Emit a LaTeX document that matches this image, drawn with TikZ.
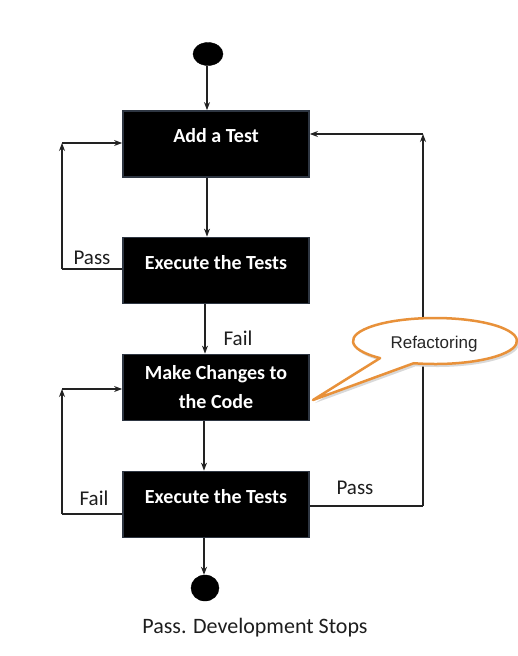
\documentclass[tikz,border=0pt]{standalone}
\usepackage{fontspec}
\setmainfont{Carlito}
\newfontfamily\arialfont{Liberation Sans}
\usetikzlibrary{arrows.meta,shapes.geometric}
\definecolor{lineclr}{HTML}{222222}
\definecolor{boxedge}{HTML}{2E3642}
\definecolor{callorange}{HTML}{E8913A}
\definecolor{labelclr}{HTML}{1E1E1E}
\tikzset{
  stepbox/.style={rectangle, fill=black, draw=boxedge, line width=1.8pt,
    minimum width=186pt, minimum height=66pt, inner sep=0pt, text=white,
    align=center, font=\fontsize{20}{29}\selectfont\bfseries},
  oneline/.style={text height=14pt, text depth=17pt},
  dot/.style={ellipse, fill=black, draw=black, inner sep=0pt},
  flow/.style={draw=lineclr, line width=1.1pt, -{Stealth[length=8pt,width=6pt]}},
  plain/.style={draw=lineclr, line width=1.1pt},
  lbl/.style={anchor=base, text=labelclr, font=\fontsize{21}{24}\selectfont, inner sep=0pt}
}
\begin{document}
\begin{tikzpicture}[x=1pt,y=1pt]
\useasboundingbox[fill=white] (0,0) rectangle (517,-656);
% nodes
\node[dot, minimum width=30pt, minimum height=23pt] (start) at (208,-54) {};
\node[stepbox, oneline] (add) at (216,-144) {Add a Test};
\node[stepbox, oneline] (exec1) at (216,-270.5) {Execute the Tests};
\node[stepbox] (make) at (216,-387.5) {Make Changes to\\the Code};
\node[stepbox, oneline] (exec2) at (216,-504.5) {Execute the Tests};
\node[dot, minimum width=28pt, minimum height=26pt] (stop) at (205,-588) {};
% labels
\node[lbl] (pass1) at (92,-264) {Pass};
\node[lbl] (fail1) at (238,-345) {Fail};
\node[lbl] (fail2) at (94,-505) {Fail};
\node[lbl] (pass2) at (355,-494) {Pass};
\node[lbl, font=\fontsize{22}{26}\selectfont] (stoptext) at (255,-633) {Pass. Development Stops};
% main arrows
\draw[flow] (start.south -| 207,0) -- (add.north -| 207,0);
\draw[flow] (add.south -| 207,0) -- (exec1.north -| 207,0);
\draw[flow] (exec1.south -| 205,0) -- (make.north -| 205,0);
\draw[flow] (make.south -| 204,0) -- (exec2.north -| 204,0);
\draw[flow] (exec2.south -| 204,0) -- (stop.north -| 204,0);
% left loop 1
\coordinate (l1a) at (62,-269);
\coordinate (l1b) at (62,-143);
\draw[plain] (exec1.west |- l1a) -- (l1a);
\draw[flow] (l1a) -- (l1b);
\draw[flow] (l1b) -- (add.west |- l1b);
% left loop 2
\coordinate (l2a) at (62,-514);
\coordinate (l2b) at (62,-389);
\draw[plain] (exec2.west |- l2a) -- (l2a);
\draw[flow] (l2a) -- (l2b);
\draw[flow] (l2b) -- (make.west |- l2b);
% right loop
\coordinate (r1a) at (423,-506);
\coordinate (r1b) at (423,-134);
\draw[plain] (exec2.east |- r1a) -- (r1a);
\draw[flow] (r1a) -- (r1b);
\draw[flow] (r1b) -- (add.east |- r1b);
% callout
\begin{scope}[shift={(2,-3)}]
\fill[black!15] (413.8,-363.2) -- (313,-400) -- (380.1,-358.1)
  arc[start angle=228, end angle=-105, x radius=82, y radius=23] -- cycle;
\end{scope}
\draw[callorange, fill=white, line width=2.5pt, line join=round]
  (413.8,-363.2) -- (313,-400) -- (380.1,-358.1)
  arc[start angle=228, end angle=-105, x radius=82, y radius=23] -- cycle;
\node[anchor=base, inner sep=0pt, font=\arialfont\fontsize{17}{20}\selectfont, text=black!85] (refac) at (434,-348) {Refactoring};
\end{tikzpicture}
\end{document}
